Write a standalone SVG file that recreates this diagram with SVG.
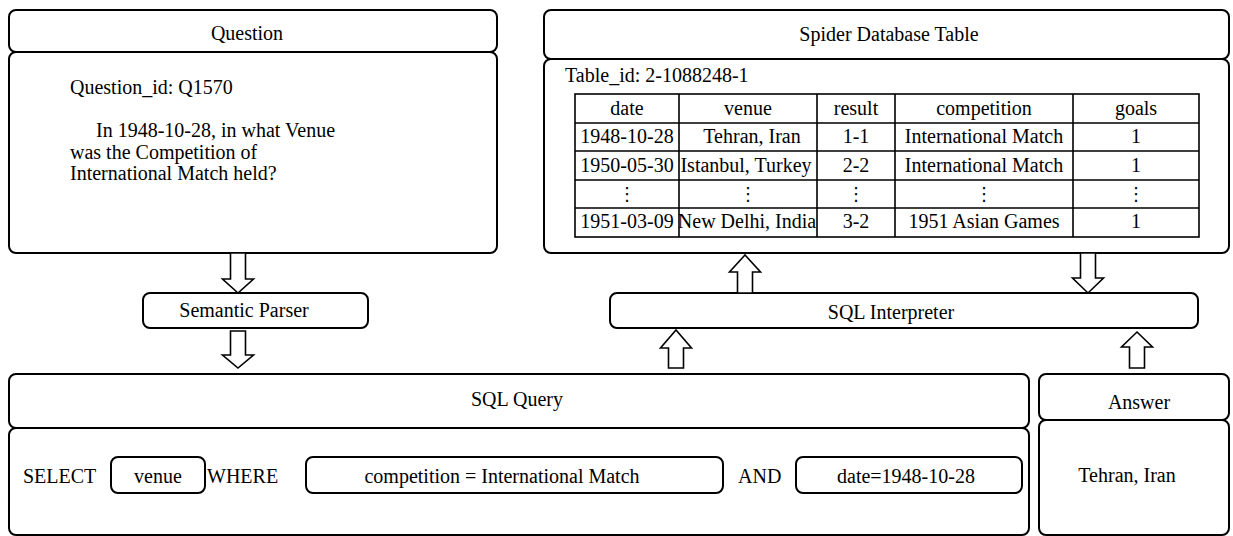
<svg xmlns="http://www.w3.org/2000/svg" width="1233" height="536" viewBox="0 0 1233 536">
<style>
.box{fill:#fff;stroke:#000;stroke-width:2}
.arrow{fill:#fff;stroke:#000;stroke-width:1.6;stroke-linejoin:miter}
.grid{fill:none;stroke:#000;stroke-width:1.6}
text{font-family:"Liberation Serif","Times New Roman",serif;font-size:20px;fill:#000}
.c{text-anchor:middle}
.dots{font-family:"DejaVu Sans",sans-serif;font-size:18px;text-anchor:middle}
</style>
<rect width="1233" height="536" fill="#fff"/>
<g id="question">
<rect class="box" x="9" y="52" width="488" height="201" rx="7"/>
<rect class="box" x="9" y="10" width="488" height="42" rx="7"/>
<text class="c" x="247" y="40">Question</text>
<text x="70" y="94">Question_id: Q1570</text>
<text x="96" y="137">In 1948-10-28, in what Venue</text>
<text x="70" y="158.5">was the Competition of</text>
<text x="70" y="180">International Match held?</text>
</g>
<g id="spider-table">
<rect class="box" x="544" y="59" width="685" height="194" rx="7"/>
<rect class="box" x="544" y="10" width="685" height="49" rx="7"/>
<text class="c" x="889" y="41">Spider Database Table</text>
<text x="565" y="82">Table_id: 2-1088248-1</text>
<rect class="grid" x="575" y="94" width="624" height="143"/>
<path class="grid" d="M575 123H1199M575 151H1199M575 180H1199M575 208H1199M679 94V237M817 94V237M895 94V237M1073 94V237"/>
<text class="c" x="627" y="115">date</text>
<text class="c" x="748" y="115">venue</text>
<text class="c" x="856" y="115">result</text>
<text class="c" x="984" y="115">competition</text>
<text class="c" x="1136" y="115">goals</text>
<text class="c" x="627" y="143">1948-10-28</text>
<text class="c" x="752" y="143">Tehran, Iran</text>
<text class="c" x="856" y="143">1-1</text>
<text class="c" x="984" y="143">International Match</text>
<text class="c" x="1136" y="143">1</text>
<text class="c" x="627" y="172">1950-05-30</text>
<text class="c" x="746" y="172">Istanbul, Turkey</text>
<text class="c" x="856" y="172">2-2</text>
<text class="c" x="984" y="172">International Match</text>
<text class="c" x="1136" y="172">1</text>
<text class="dots" x="627" y="200">⋮</text>
<text class="dots" x="748" y="200">⋮</text>
<text class="dots" x="856" y="200">⋮</text>
<text class="dots" x="984" y="200">⋮</text>
<text class="dots" x="1136" y="200">⋮</text>
<text class="c" x="627" y="228">1951-03-09</text>
<text class="c" x="747" y="228">New Delhi, India</text>
<text class="c" x="856" y="228">3-2</text>
<text class="c" x="984" y="228">1951 Asian Games</text>
<text class="c" x="1136" y="228">1</text>
</g>
<g id="semantic-parser">
<rect class="box" x="143" y="293" width="225" height="35" rx="7"/>
<text class="c" x="244" y="317">Semantic Parser</text>
</g>
<g id="sql-interpreter">
<rect class="box" x="610" y="293" width="588" height="35" rx="7"/>
<text class="c" x="891" y="319">SQL Interpreter</text>
</g>
<g id="sql-query">
<rect class="box" x="9" y="428" width="1020" height="107" rx="7"/>
<rect class="box" x="9" y="374" width="1020" height="54" rx="7"/>
<text class="c" x="517" y="406">SQL Query</text>
<text x="23" y="483">SELECT</text>
<rect class="box" x="111" y="457" width="94" height="36" rx="7"/>
<text class="c" x="158" y="483">venue</text>
<text x="207" y="483">WHERE</text>
<rect class="box" x="306" y="457" width="417" height="36" rx="7"/>
<text class="c" x="502" y="483">competition = International Match</text>
<text x="738" y="483">AND</text>
<rect class="box" x="796" y="457" width="226" height="36" rx="7"/>
<text class="c" x="906" y="483">date=1948-10-28</text>
</g>
<g id="answer">
<rect class="box" x="1039" y="420" width="190" height="115" rx="7"/>
<rect class="box" x="1039" y="374" width="190" height="46" rx="7"/>
<text class="c" x="1139" y="409">Answer</text>
<text class="c" x="1127" y="482">Tehran, Iran</text>
</g>
<g id="connectors">
<path class="arrow" d="M230.5 253H245.5V279H253.5L238 293L222.5 279H230.5Z"/>
<path class="arrow" d="M230.5 331H245.5V355H253.5L238 368L222.5 355H230.5Z"/>
<path class="arrow" d="M737.5 293V272H729.5L745 255L760.5 272H752.5V293Z"/>
<path class="arrow" d="M1080.5 253H1095.5V278H1103.5L1088 293L1072.5 278H1080.5Z"/>
<path class="arrow" d="M668.5 368V348H660.5L676 330L691.5 348H683.5V368Z"/>
<path class="arrow" d="M1129.5 368V347H1121.5L1137 332L1152.5 347H1144.5V368Z"/>
</g>
</svg>
